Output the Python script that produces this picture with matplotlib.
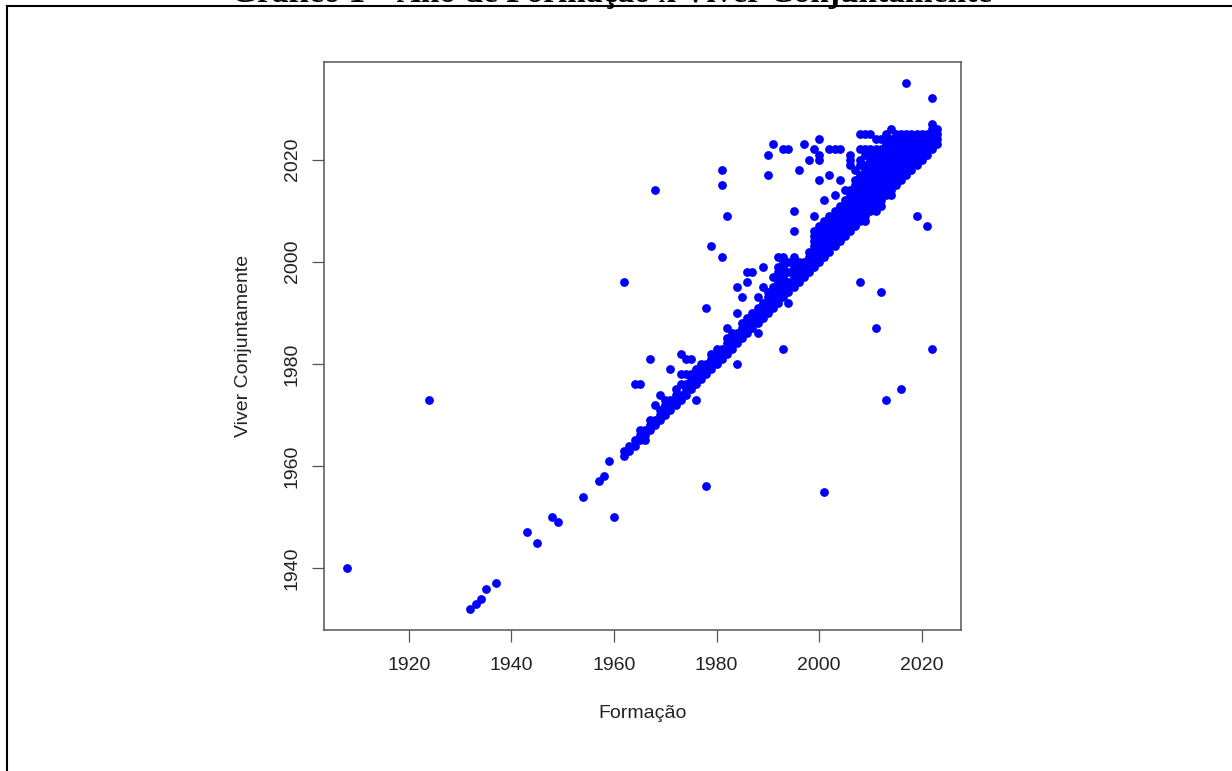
import matplotlib.pyplot as plt
from matplotlib.lines import Line2D

# Ano de formação (x) e ano em que passaram a viver conjuntamente (y)
formacao = [
    1908, 1924, 1932, 1933, 1934, 1935, 1937, 1943, 1945, 1948, 1949, 1954, 1957, 1958, 1959, 1960,
    1962, 1962, 1962,
    1963, 1963,
    1964, 1964, 1964,
    1965, 1965, 1965, 1965,
    1966, 1966, 1966,
    1967, 1967, 1967, 1967,
    1968, 1968, 1968, 1968,
    1969, 1969, 1969, 1969,
    1970, 1970, 1970, 1970,
    1971, 1971, 1971, 1971,
    1972, 1972, 1972, 1972,
    1973, 1973, 1973, 1973, 1973,
    1974, 1974, 1974, 1974, 1974,
    1975, 1975, 1975, 1975, 1975,
    1976, 1976, 1976, 1976, 1976,
    1977, 1977, 1977, 1977,
    1978, 1978, 1978, 1978, 1978,
    1979, 1979, 1979, 1979, 1979,
    1980, 1980, 1980, 1980,
    1981, 1981, 1981, 1981, 1981, 1981,
    1982, 1982, 1982, 1982, 1982, 1982,
    1983, 1983, 1983, 1983,
    1984, 1984, 1984, 1984, 1984, 1984,
    1985, 1985, 1985, 1985, 1985,
    1986, 1986, 1986, 1986, 1986, 1986,
    1987, 1987, 1987, 1987, 1987,
    1988, 1988, 1988, 1988, 1988, 1988,
    1989, 1989, 1989, 1989, 1989, 1989,
    1990, 1990, 1990, 1990, 1990, 1990, 1990,
    1991, 1991, 1991, 1991, 1991, 1991, 1991,
    1992, 1992, 1992, 1992, 1992, 1992, 1992, 1992, 1992,
    1993, 1993, 1993, 1993, 1993, 1993, 1993, 1993, 1993, 1993, 1993,
    1994, 1994, 1994, 1994, 1994, 1994, 1994,
    1995, 1995, 1995, 1995, 1995, 1995, 1995, 1995, 1995,
    1996, 1996, 1996, 1996, 1996, 1996,
    1997, 1997, 1997, 1997, 1997,
    1998, 1998, 1998, 1998, 1998, 1998,
    1999, 1999, 1999, 1999, 1999, 1999, 1999, 1999, 1999, 1999,
    2000, 2000, 2000, 2000, 2000, 2000, 2000, 2000, 2000, 2000, 2000, 2000,
    2001, 2001, 2001, 2001, 2001, 2001, 2001, 2001, 2001, 2001,
    2002, 2002, 2002, 2002, 2002, 2002, 2002, 2002, 2002, 2002,
    2003, 2003, 2003, 2003, 2003, 2003, 2003, 2003, 2003, 2003,
    2004, 2004, 2004, 2004, 2004, 2004, 2004, 2004, 2004, 2004,
    2005, 2005, 2005, 2005, 2005, 2005, 2005, 2005, 2005,
    2006, 2006, 2006, 2006, 2006, 2006, 2006, 2006, 2006, 2006, 2006, 2006,
    2007, 2007, 2007, 2007, 2007, 2007, 2007, 2007, 2007, 2007, 2007,
    2008, 2008, 2008, 2008, 2008, 2008, 2008, 2008, 2008, 2008, 2008, 2008, 2008, 2008, 2008,
    2009, 2009, 2009, 2009, 2009, 2009, 2009, 2009, 2009, 2009, 2009, 2009, 2009, 2009, 2009,
    2010, 2010, 2010, 2010, 2010, 2010, 2010, 2010, 2010, 2010, 2010, 2010, 2010, 2010,
    2011, 2011, 2011, 2011, 2011, 2011, 2011, 2011, 2011, 2011, 2011, 2011, 2011, 2011, 2011,
    2012, 2012, 2012, 2012, 2012, 2012, 2012, 2012, 2012, 2012, 2012, 2012, 2012, 2012,
    2013, 2013, 2013, 2013, 2013, 2013, 2013, 2013, 2013, 2013, 2013, 2013, 2013, 2013,
    2014, 2014, 2014, 2014, 2014, 2014, 2014, 2014, 2014, 2014, 2014, 2014, 2014,
    2015, 2015, 2015, 2015, 2015, 2015, 2015, 2015, 2015, 2015, 2015,
    2016, 2016, 2016, 2016, 2016, 2016, 2016, 2016, 2016, 2016, 2016,
    2017, 2017, 2017, 2017, 2017, 2017, 2017, 2017, 2017, 2017,
    2018, 2018, 2018, 2018, 2018, 2018, 2018, 2018,
    2019, 2019, 2019, 2019, 2019, 2019, 2019, 2019,
    2020, 2020, 2020, 2020, 2020, 2020,
    2021, 2021, 2021, 2021, 2021, 2021,
    2022, 2022, 2022, 2022, 2022, 2022, 2022, 2022,
    2023, 2023, 2023, 2023,
]

viver = [
    1940, 1973, 1932, 1933, 1934, 1936, 1937, 1947, 1945, 1950, 1949, 1954, 1957, 1958, 1961, 1950,
    1962, 1963, 1996,
    1963, 1964,
    1964, 1965, 1976,
    1965, 1966, 1967, 1976,
    1965, 1966, 1967,
    1967, 1968, 1969, 1981,
    1968, 1969, 1972, 2014,
    1969, 1970, 1971, 1974,
    1970, 1971, 1972, 1973,
    1971, 1972, 1973, 1979,
    1972, 1973, 1974, 1975,
    1973, 1974, 1976, 1978, 1982,
    1974, 1975, 1976, 1978, 1981,
    1975, 1976, 1977, 1978, 1981,
    1973, 1976, 1977, 1978, 1979,
    1977, 1978, 1979, 1980,
    1956, 1978, 1979, 1980, 1991,
    1979, 1980, 1981, 1982, 2003,
    1980, 1981, 1982, 1983,
    1981, 1982, 1983, 2001, 2015, 2018,
    1982, 1983, 1984, 1985, 1987, 2009,
    1983, 1984, 1985, 1986,
    1980, 1984, 1985, 1986, 1990, 1995,
    1985, 1986, 1987, 1988, 1993,
    1986, 1987, 1988, 1989, 1996, 1998,
    1987, 1988, 1989, 1990, 1998,
    1986, 1988, 1989, 1990, 1991, 1993,
    1989, 1990, 1991, 1992, 1995, 1999,
    1990, 1991, 1992, 1993, 1994, 2017, 2021,
    1991, 1992, 1993, 1994, 1995, 1997, 2023,
    1992, 1993, 1994, 1995, 1996, 1997, 1998, 1999, 2001,
    1983, 1993, 1994, 1995, 1996, 1997, 1998, 1999, 2000, 2001, 2022,
    1992, 1994, 1995, 1996, 1998, 2000, 2022,
    1995, 1996, 1997, 1998, 1999, 2000, 2001, 2006, 2010,
    1996, 1997, 1998, 1999, 2000, 2018,
    1997, 1998, 1999, 2000, 2023,
    1998, 1999, 2000, 2001, 2002, 2020,
    1999, 2000, 2001, 2002, 2003, 2004, 2005, 2006, 2009, 2022,
    2000, 2001, 2002, 2003, 2004, 2005, 2006, 2007, 2016, 2020, 2021, 2024,
    1955, 2001, 2002, 2003, 2004, 2005, 2006, 2007, 2008, 2012,
    2002, 2003, 2004, 2005, 2006, 2007, 2008, 2009, 2017, 2022,
    2003, 2004, 2005, 2006, 2007, 2008, 2009, 2010, 2013, 2022,
    2004, 2005, 2006, 2007, 2008, 2009, 2010, 2011, 2016, 2022,
    2005, 2006, 2007, 2008, 2009, 2010, 2011, 2012, 2014,
    2006, 2007, 2008, 2009, 2010, 2011, 2012, 2013, 2014, 2019, 2020, 2021,
    2007, 2008, 2009, 2010, 2011, 2012, 2013, 2014, 2015, 2016, 2018,
    1996, 2008, 2009, 2010, 2011, 2012, 2013, 2014, 2015, 2016, 2017, 2019, 2020, 2022, 2025,
    2008, 2009, 2010, 2011, 2012, 2013, 2014, 2015, 2016, 2017, 2018, 2019, 2021, 2022, 2025,
    2010, 2011, 2012, 2013, 2014, 2015, 2016, 2017, 2018, 2019, 2020, 2021, 2022, 2025,
    1987, 2010, 2011, 2012, 2013, 2014, 2015, 2016, 2017, 2018, 2019, 2020, 2021, 2022, 2024,
    1994, 2011, 2012, 2013, 2014, 2015, 2016, 2017, 2018, 2019, 2020, 2021, 2022, 2024,
    1973, 2013, 2014, 2015, 2016, 2017, 2018, 2019, 2020, 2021, 2022, 2023, 2024, 2025,
    2013, 2014, 2015, 2016, 2017, 2018, 2019, 2020, 2021, 2022, 2023, 2024, 2026,
    2015, 2016, 2017, 2018, 2019, 2020, 2021, 2022, 2023, 2024, 2025,
    1975, 2016, 2017, 2018, 2019, 2020, 2021, 2022, 2023, 2024, 2025,
    2017, 2018, 2019, 2020, 2021, 2022, 2023, 2024, 2025, 2035,
    2018, 2019, 2020, 2021, 2022, 2023, 2024, 2025,
    2009, 2019, 2020, 2021, 2022, 2023, 2024, 2025,
    2020, 2021, 2022, 2023, 2024, 2025,
    2007, 2021, 2022, 2023, 2024, 2025,
    1983, 2022, 2023, 2024, 2025, 2026, 2027, 2032,
    2023, 2024, 2025, 2026,
]

x_ticks = [1920, 1940, 1960, 1980, 2000, 2020]
y_ticks = [1940, 1960, 1980, 2000, 2020]

plt.rcParams['font.family'] = ['Liberation Sans', 'DejaVu Sans']

W, H = 1232, 771
fig = plt.figure(figsize=(W / 100, H / 100), dpi=100)
ax = fig.add_axes([323.7 / W, 1 - 630 / H, (960.7 - 323.7) / W, (630 - 62) / H])

ax.scatter(formacao, viver, s=40, color='#0000ff', linewidths=0)

ax.set_xlim(1903.4, 2027.6)
ax.set_ylim(1927.88, 2039.12)
ax.set_xticks(x_ticks)
ax.set_yticks(y_ticks)
ax.set_yticklabels([str(v) for v in y_ticks], rotation=90, va='center')

for s in ax.spines.values():
    s.set_color('#555555')
    s.set_linewidth(1.1)
ax.tick_params(length=8.5, width=0.9, color='#555555', labelsize=14,
               labelcolor='#222222')
ax.tick_params(axis='x', pad=11)
ax.tick_params(axis='y', pad=8)

ax.set_xlabel('Formação', fontsize=14, color='#222222')
ax.set_ylabel('Viver Conjuntamente', fontsize=14, color='#222222')
ax.xaxis.set_label_coords(0.5, (630 - 713) / 568)
ax.xaxis.label.set_va('center')
ax.yaxis.set_label_coords((243 - 323.7) / 637, 0.5)
ax.yaxis.label.set_va('center')

# titulo (cortado no topo da imagem, como no original)
fig.text(612 / W, 1 - 2 / H, 'Gráfico 1 – Ano de Formação x Viver Conjuntamente',
         ha='center', va='baseline', fontsize=24, fontweight='bold',
         family='Liberation Serif')

# moldura da pagina
fig.add_artist(Line2D([7 / W, 1], [1 - 6 / H, 1 - 6 / H], transform=fig.transFigure,
                      color='black', lw=1.5))
fig.add_artist(Line2D([7 / W, 7 / W], [0, 1 - 6 / H], transform=fig.transFigure,
                      color='black', lw=1.5))

fig.savefig('out.png', dpi=100)
